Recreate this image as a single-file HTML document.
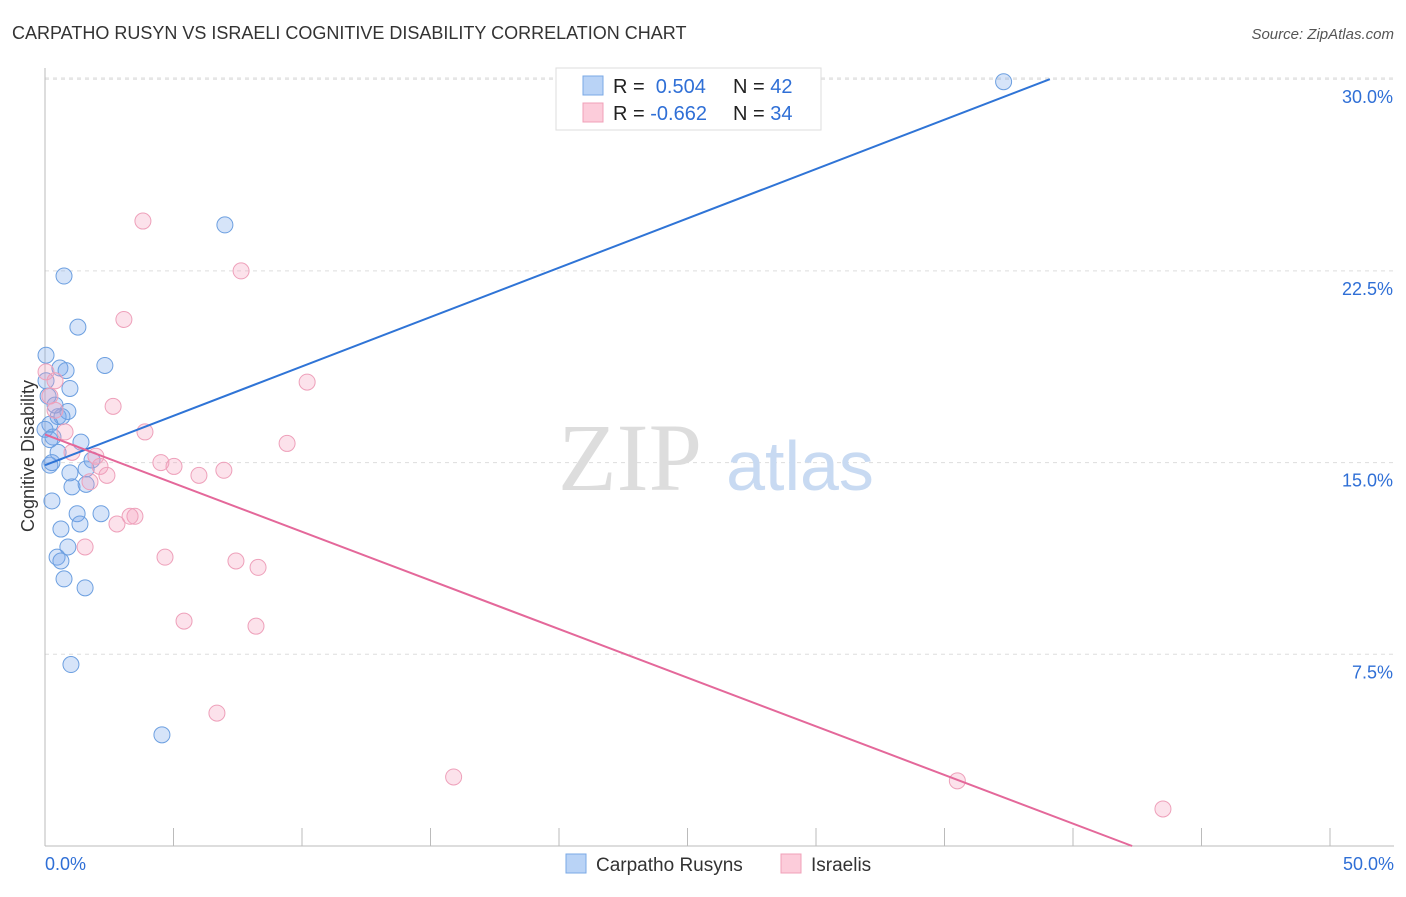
<!DOCTYPE html>
<html><head><meta charset="utf-8"><style>
body{margin:0;background:#fff;font-family:"Liberation Sans",sans-serif;}
</style></head><body>
<svg id="chart" width="1406" height="892" xmlns="http://www.w3.org/2000/svg">
<text x="12" y="39" font-size="18" fill="#333">CARPATHO RUSYN VS ISRAELI COGNITIVE DISABILITY CORRELATION CHART</text>
<text x="1394" y="39" font-size="15" fill="#555" font-style="italic" text-anchor="end">Source: ZipAtlas.com</text>
<g id="grid"></g>
<text x="630" y="490" font-size="96" fill="#ddd" font-family="Liberation Serif,serif" text-anchor="middle">ZIP</text>
<text x="800" y="490" font-size="70" fill="#c8daf2" text-anchor="middle">atlas</text>
<g id="axes"></g>
<g id="pts"></g>
<g id="lines"></g>
<text x="34" y="456" font-size="18" fill="#333" text-anchor="middle" transform="rotate(-90 34 456)">Cognitive Disability</text>
<g>
<rect x="556" y="68" width="265" height="62" fill="#fff" stroke="#ddd"/>
<rect x="583" y="76" width="20" height="19" fill="#b9d3f6" stroke="#7aa8e6"/>
<rect x="583" y="103" width="20" height="19" fill="#fcccda" stroke="#f0a0b8"/>
<text x="613" y="93" font-size="20" fill="#222">R = <tspan fill="#2f6fd6">&#160;0.504</tspan></text>
<text x="733" y="93" font-size="20" fill="#222">N = <tspan fill="#2f6fd6">42</tspan></text>
<text x="613" y="120" font-size="20" fill="#222">R = <tspan fill="#2f6fd6">-0.662</tspan></text>
<text x="733" y="120" font-size="20" fill="#222">N = <tspan fill="#2f6fd6">34</tspan></text>
</g>
<g>
<rect x="566" y="854" width="20" height="19" fill="#b9d3f6" stroke="#7aa8e6"/>
<text x="596" y="871" font-size="19" fill="#333">Carpatho Rusyns</text>
<rect x="781" y="854" width="20" height="19" fill="#fcccda" stroke="#f0a0b8"/>
<text x="811" y="871" font-size="19" fill="#333">Israelis</text>
</g>
</svg>
<script>
const blueX=[37.3,7.0,0.74,1.28,0.04,2.33,0.58,0.82,0.97,0.89,0.51,0.66,0.19,0.31,1.40,0.51,1.83,0.19,0.27,0.97,1.60,1.05,1.60,0.27,1.25,2.18,0.62,1.36,0.89,0.47,0.62,0.74,1.56,1.01,4.55,0.04,0.12,0.39,0,0.19];
const blueY=[29.9,24.3,22.3,20.3,19.2,18.8,18.7,18.6,17.9,17.0,16.8,16.8,16.5,16.0,15.8,15.4,15.1,14.9,15.0,14.6,14.75,14.05,14.15,13.5,13.0,13.0,12.4,12.6,11.7,11.3,11.15,10.45,10.1,7.1,4.35,18.2,17.6,17.25,16.3,15.9];
const pinkX=[3.81,7.63,3.07,10.2,0.04,0.39,2.65,3.89,9.42,4.51,5.02,6.96,5.99,2.14,2.41,1.98,1.75,1.05,0.78,3.50,2.80,3.31,1.56,4.67,7.43,8.29,5.41,8.21,6.69,15.9,35.5,43.5,0.19,0.39];
const pinkY=[24.45,22.5,20.6,18.15,18.55,18.2,17.2,16.2,15.75,15.0,14.85,14.7,14.5,14.85,14.5,15.25,14.25,15.4,16.2,12.9,12.6,12.9,11.7,11.3,11.15,10.9,8.8,8.6,5.2,2.7,2.55,1.45,17.6,17.05];
const yTicks=[7.5,15,22.5,30];
const xTicks=[0,5,10,15,20,25,30,35,40,45,50];
const blueLine=[[0,14.9],[39.1,30.0]];
const pinkLine=[[0,16.1],[42.3,0]];
const NS="http://www.w3.org/2000/svg";
const sx=v=>45+v*25.7, sy=v=>846-v*25.56;
function mk(p,t,a){const e=document.createElementNS(NS,t);for(const k in a)e.setAttribute(k,a[k]);document.getElementById(p).appendChild(e);return e;}
yTicks.forEach(t=>{
 const l=mk('grid','line',{x1:45,x2:1394,y1:sy(t),y2:sy(t),stroke:'#ddd','stroke-dasharray':'4,4'});
 
 
 const tx=mk('axes','text',{x:1393,y:sy(t)+24,'font-size':18,fill:'#2f6fd6','text-anchor':'end'});
 tx.textContent=t.toFixed(1)+'%';
 
 
});
const gl=mk('grid','line',{x1:45,x2:1394,y1:78,y2:78,stroke:'#ddd','stroke-dasharray':'4,4'});


const xa=mk('axes','line',{x1:45,x2:1394,y1:846,y2:846,stroke:'#bbb'});


const ya=mk('axes','line',{x1:45,x2:45,y1:68,y2:846,stroke:'#bbb'});


xTicks.forEach(t=>{
 const l=mk('axes','line',{x1:sx(t),x2:sx(t),y1:828,y2:846,stroke:'#bbb'});
 
 
});
[[0,'0.0%','start'],[50,'50.0%','end']].forEach(([v,s,a])=>{
 const tx=mk('axes','text',{x:sx(v)+(a=='end'?64:0),y:870,'font-size':18,fill:'#2f6fd6','text-anchor':a});
 tx.textContent=s;
 
 
});
blueX.forEach((x,i)=>{
 const c=mk('pts','circle',{cx:sx(x),cy:sy(blueY[i]),r:8,fill:'rgba(120,165,235,0.3)',stroke:'#6c9fe0','stroke-width':1});
 
 
});
pinkX.forEach((x,i)=>{
 const c=mk('pts','circle',{cx:sx(x),cy:sy(pinkY[i]),r:8,fill:'rgba(245,160,190,0.3)',stroke:'#eea0ba','stroke-width':1});
 
 
});
const bl=mk('lines','line',{x1:sx(blueLine[0][0]),y1:sy(blueLine[0][1]),x2:sx(blueLine[1][0]),y2:sy(blueLine[1][1]),stroke:'#2f74d6','stroke-width':2});


const pl=mk('lines','line',{x1:sx(pinkLine[0][0]),y1:sy(pinkLine[0][1]),x2:sx(pinkLine[1][0]),y2:sy(pinkLine[1][1]),stroke:'#e4689a','stroke-width':2});


</script>
</body></html>
